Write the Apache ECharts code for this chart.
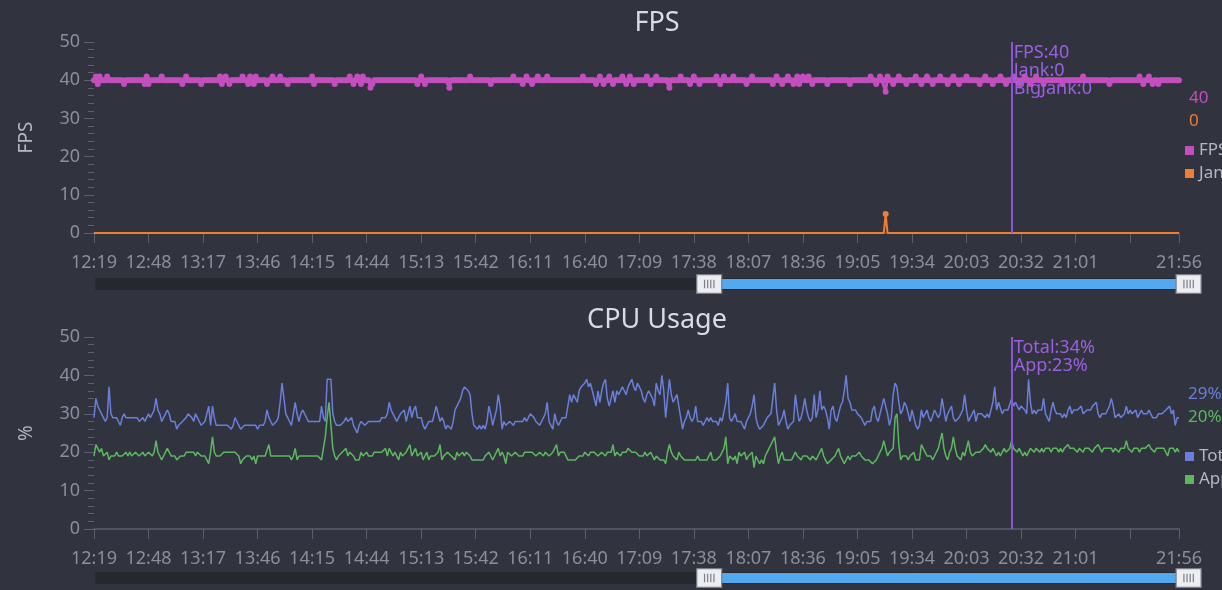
<!DOCTYPE html>
<html>
<head>
<meta charset="utf-8">
<script src="https://cdn.jsdelivr.net/npm/echarts@6/dist/echarts.min.js"></script>
<style>
html,body{margin:0;padding:0;background:#31333f;}
#chart{width:1222px;height:590px;}
</style>
</head>
<body>
<div id="chart"></div>
<script>
// ---- categories: one sample per minute from 12:19 to 21:56 ----
const startTime = '12:19';
const sampleCount = 578;
const categories = [];
(function () {
  const p = startTime.split(':');
  const m0 = (+p[0]) * 60 + (+p[1]);
  for (let k = 0; k < sampleCount; k++) {
    const t = m0 + k;
    categories.push(String(Math.floor(t / 60)).padStart(2, '0') + ':' + String(t % 60).padStart(2, '0'));
  }
})();

// ---- FPS chart ----
const fpsValues = [
40,41,39,41,40,40,40,41,40,40, 40,40,40,40,40,40,39,40,40,40,
40,40,40,40,40,40,40,39,41,39, 40,40,40,40,40,40,41,40,40,40,
40,40,40,40,40,40,40,39,40,41, 40,40,40,40,40,40,40,39,40,40,
40,40,40,40,40,40,40,41,39,40, 41,40,39,40,40,40,40,40,40,41,
40,40,39,41,40,39,41,40,40,40, 40,40,39,40,40,41,40,40,40,41,
40,40,40,39,40,40,40,40,40,40, 40,40,40,40,40,40,41,39,40,40,
40,40,40,40,40,40,40,40,39,40, 40,40,40,40,40,40,41,40,39,40,
41,40,39,41,40,40,40,38,39,40, 40,40,40,40,40,40,40,40,40,40,
40,40,40,40,40,40,40,40,40,40, 40,40,39,40,41,40,39,40,40,40,
40,40,40,40,40,40,40,40,40,38, 40,40,40,40,40,40,40,40,40,40,
41,40,40,40,40,40,40,40,40,40, 40,39,40,40,40,40,40,40,40,40,
40,40,40,41,40,40,40,40,39,40, 41,40,40,39,40,40,41,40,40,40,
40,41,40,40,40,40,40,40,40,40, 40,40,40,40,40,40,40,40,40,40,
41,40,40,40,40,40,40,39,40,41, 40,39,40,40,41,40,39,40,40,40,
40,41,40,39,40,41,40,39,40,40, 40,40,40,40,41,40,39,40,40,41,
40,40,40,40,40,40,38,40,40,40, 40,40,41,40,40,40,40,39,40,41,
40,40,39,40,40,40,40,40,40,40, 40,41,40,39,40,41,40,40,40,40,
41,40,40,40,40,40,40,39,40,40, 41,40,40,40,40,40,40,40,40,40,
40,39,40,41,40,40,39,40,40,41, 40,40,39,40,41,39,40,41,40,40,
41,40,39,40,40,40,40,40,40,40, 39,40,40,40,40,40,40,40,40,40,
40,40,39,40,40,40,40,40,40,40, 40,40,40,41,40,40,39,40,41,40,
40,37,41,40,40,39,40,40,41,40, 40,40,39,40,40,40,40,41,40,40,
39,40,40,41,40,40,39,40,40,40, 41,40,40,40,39,40,40,41,40,40,
39,40,40,40,41,40,40,40,40,40, 40,39,40,40,41,40,40,40,39,40,
40,40,41,40,40,39,40,40,40,41, 40,40,39,40,40,41,40,40,39,40,
40,41,40,40,40,39,40,40,40,40, 40,40,40,40,40,39,40,40,40,40,
40,40,40,40,40,40,41,40,40,40, 40,40,40,40,40,40,40,40,40,40,
39,40,40,40,40,40,40,40,40,40, 40,40,40,40,40,40,41,40,39,40,
40,41,40,39,40,40,39,40,40,40, 40,40,40,40,40,40,40,40
];
const jankValues = [
0,0,0,0,0,0,0,0,0,0, 0,0,0,0,0,0,0,0,0,0,
0,0,0,0,0,0,0,0,0,0, 0,0,0,0,0,0,0,0,0,0,
0,0,0,0,0,0,0,0,0,0, 0,0,0,0,0,0,0,0,0,0,
0,0,0,0,0,0,0,0,0,0, 0,0,0,0,0,0,0,0,0,0,
0,0,0,0,0,0,0,0,0,0, 0,0,0,0,0,0,0,0,0,0,
0,0,0,0,0,0,0,0,0,0, 0,0,0,0,0,0,0,0,0,0,
0,0,0,0,0,0,0,0,0,0, 0,0,0,0,0,0,0,0,0,0,
0,0,0,0,0,0,0,0,0,0, 0,0,0,0,0,0,0,0,0,0,
0,0,0,0,0,0,0,0,0,0, 0,0,0,0,0,0,0,0,0,0,
0,0,0,0,0,0,0,0,0,0, 0,0,0,0,0,0,0,0,0,0,
0,0,0,0,0,0,0,0,0,0, 0,0,0,0,0,0,0,0,0,0,
0,0,0,0,0,0,0,0,0,0, 0,0,0,0,0,0,0,0,0,0,
0,0,0,0,0,0,0,0,0,0, 0,0,0,0,0,0,0,0,0,0,
0,0,0,0,0,0,0,0,0,0, 0,0,0,0,0,0,0,0,0,0,
0,0,0,0,0,0,0,0,0,0, 0,0,0,0,0,0,0,0,0,0,
0,0,0,0,0,0,0,0,0,0, 0,0,0,0,0,0,0,0,0,0,
0,0,0,0,0,0,0,0,0,0, 0,0,0,0,0,0,0,0,0,0,
0,0,0,0,0,0,0,0,0,0, 0,0,0,0,0,0,0,0,0,0,
0,0,0,0,0,0,0,0,0,0, 0,0,0,0,0,0,0,0,0,0,
0,0,0,0,0,0,0,0,0,0, 0,0,0,0,0,0,0,0,0,0,
0,0,0,0,0,0,0,0,0,0, 0,0,0,0,0,0,0,0,0,0,
0,5,0,0,0,0,0,0,0,0, 0,0,0,0,0,0,0,0,0,0,
0,0,0,0,0,0,0,0,0,0, 0,0,0,0,0,0,0,0,0,0,
0,0,0,0,0,0,0,0,0,0, 0,0,0,0,0,0,0,0,0,0,
0,0,0,0,0,0,0,0,0,0, 0,0,0,0,0,0,0,0,0,0,
0,0,0,0,0,0,0,0,0,0, 0,0,0,0,0,0,0,0,0,0,
0,0,0,0,0,0,0,0,0,0, 0,0,0,0,0,0,0,0,0,0,
0,0,0,0,0,0,0,0,0,0, 0,0,0,0,0,0,0,0,0,0,
0,0,0,0,0,0,0,0,0,0, 0,0,0,0,0,0,0,0
];

// ---- CPU chart (%) ----
const cpuTotal = [
29,34,32,31,30,29,28,29,37,30, 29,29,29,28,27,29,30,29,29,29,
29,29,29,29,28,28,29,28,29,30, 29,29,31,34,31,30,28,29,29,31,
30,28,28,28,26,27,27,28,28,29, 30,30,29,28,30,29,28,27,27,28,
28,32,27,32,29,27,27,27,27,27, 27,27,27,26,27,29,28,27,26,26,
27,27,27,27,27,27,27,26,27,27, 27,28,31,29,28,27,27,28,29,33,
38,34,30,29,28,27,30,33,30,28, 30,31,31,29,28,28,28,28,28,28,
28,32,29,28,39,39,39,30,28,27, 27,27,27,28,29,28,28,29,27,26,
25,27,28,28,27,27,28,28,28,28, 28,28,28,29,29,29,30,33,31,30,
29,28,29,30,30,31,28,30,32,29, 31,32,29,29,29,27,26,27,28,28,
28,30,32,30,28,29,28,26,27,27, 26,28,31,32,32,34,36,37,37,36,
35,30,27,27,26,27,26,27,26,28, 32,30,27,27,31,35,32,26,28,27,
27,28,28,27,28,28,28,28,28,29, 28,29,30,30,29,28,28,27,28,28,
30,33,28,27,26,30,28,27,28,29, 29,29,32,35,33,35,34,33,36,37,
37,38,39,37,38,36,34,32,36,33, 36,38,39,34,32,34,36,33,36,35,
35,37,36,35,37,38,39,37,36,38, 37,36,34,33,35,36,35,34,32,38,
36,35,40,36,29,34,39,35,33,34, 35,35,29,26,28,29,31,29,28,29,
32,28,28,28,27,28,29,28,29,28, 28,28,27,29,28,28,33,38,29,28,
29,30,28,28,28,27,26,28,29,30, 32,35,29,27,26,26,27,27,29,29,
30,34,38,31,27,28,29,31,28,26, 27,27,28,35,31,28,29,31,34,31,
29,28,29,35,29,31,36,31,32,31, 29,26,31,32,29,28,30,32,33,36,
40,34,33,31,31,31,30,30,29,29, 27,28,28,28,31,32,29,28,30,32,
34,34,30,27,29,35,38,37,33,30, 31,33,32,30,28,31,29,27,26,27,
31,29,29,31,29,28,28,31,31,29, 30,34,31,28,30,31,32,29,28,28,
29,30,31,35,31,28,29,30,31,28, 30,30,30,30,29,30,29,29,33,37,
31,33,33,30,31,31,31,31,34,32, 33,32,31,32,32,31,30,39,33,30,
31,30,31,31,31,34,30,29,28,31, 33,31,30,30,30,29,30,29,31,32,
30,31,31,31,31,32,30,30,31,31, 31,32,32,33,30,29,30,30,30,31,
32,34,32,29,29,30,29,29,30,32, 30,31,30,30,31,29,30,31,30,30,
30,31,30,29,29,29,30,30,30,30, 31,31,32,30,31,27,29,29
];
const cpuApp = [
19,22,21,20,21,19,19,20,18,19, 19,19,20,19,19,19,19,20,19,20,
19,19,20,20,19,19,20,19,19,20, 20,19,20,23,20,19,18,19,20,21,
20,19,19,19,18,18,19,19,19,20, 20,20,20,20,19,20,20,19,19,19,
18,17,20,24,20,19,19,19,19,20, 20,20,20,20,20,20,20,19,17,18,
18,19,19,19,18,19,17,19,19,19, 19,19,19,22,19,19,19,19,19,19,
19,19,19,19,19,18,19,21,18,19, 19,19,19,19,19,19,19,19,19,19,
19,18,21,24,29,33,33,21,19,18, 19,19,20,20,21,19,20,20,19,18,
18,18,20,19,19,20,19,19,19,20, 20,20,20,20,20,21,19,21,20,19,
20,20,18,20,19,19,20,21,22,19, 20,21,19,19,20,18,19,20,18,19,
19,19,19,20,22,18,19,19,20,20, 19,19,18,20,19,19,20,19,20,20,
19,18,18,18,18,18,18,18,19,19, 20,19,18,19,20,21,19,20,19,17,
20,20,19,19,20,20,19,19,19,20, 20,20,20,20,20,19,19,20,20,19,
20,20,19,19,20,21,22,19,20,20, 20,20,18,18,18,18,18,18,19,19,
19,20,20,19,20,20,20,20,19,19, 20,20,19,20,20,20,22,19,20,20,
19,20,20,20,21,21,20,20,20,20, 19,19,19,20,19,19,20,19,18,19,
19,18,18,18,17,20,22,20,19,19, 18,20,19,19,18,18,18,18,18,18,
18,19,18,18,18,18,18,18,20,18, 18,18,18,19,19,21,24,17,19,19,
18,19,17,20,19,19,20,18,19,19, 20,16,19,19,17,18,17,19,20,21,
22,22,24,20,17,19,20,18,18,18, 18,18,18,20,19,19,18,19,19,19,
19,18,19,19,18,19,19,21,19,18, 17,17,18,18,19,20,21,19,18,17,
18,19,18,19,19,19,19,20,19,19, 18,18,18,18,17,17,18,18,20,21,
23,21,19,20,20,21,29,30,22,18, 19,19,19,18,19,19,20,18,18,18,
22,21,21,19,19,19,18,19,19,21, 23,25,21,19,18,20,21,24,21,19,
19,18,20,19,19,23,20,19,19,20, 20,20,20,21,22,21,21,20,21,21,
19,20,19,20,21,20,20,21,23,21, 21,20,21,20,19,20,19,20,21,21,
20,21,21,20,21,20,21,21,21,20, 21,21,21,20,21,20,21,21,22,21,
21,21,21,20,21,21,20,21,21,21, 21,20,21,21,22,21,20,21,21,21,
21,21,20,21,21,20,21,21,21,23, 21,21,20,21,21,21,20,21,21,21,
21,22,21,21,20,21,21,21,21,21, 21,19,21,21,21,20,21,20
];

// ---- marker / side readouts ----
const markTime = '20:27';
const bigJankAtMark = 0;
const fpsSideValues = ['40', '0'];
const cpuSideValues = ['29%', '20%'];
const yTicks = { min: 0, max: 50, interval: 10 };
const zoomWindow = { start: 56, end: 100 };

const markIdx = categories.indexOf(markTime);
const C = {
  bg: '#31333f', fps: '#c24fbd', jank: '#ef7e35', total: '#6a7fda', app: '#5cb85f',
  mark: '#8b55d6', markText: '#9b60e2', axisText: '#8b8f9a', tick: '#5c606d', title: '#d8dbe5'
};
const FONT = 'Noto Sans, sans-serif';

function labelShown(i) { return (i % 29 === 0 && i < sampleCount - 29) || i === sampleCount - 1; }
function tickShown(i) { return i % 29 === 0 || i === sampleCount - 1; }

function mkX(grid) {
  return {
    type: 'category', gridIndex: grid, data: categories, boundaryGap: false,
    axisLine: { show: true, lineStyle: { color: '#4f5363', width: 2 } },
    axisTick: { show: true, interval: tickShown, length: 10, lineStyle: { color: C.tick, width: 1 } },
    axisLabel: { interval: labelShown, color: C.axisText, fontSize: 18, margin: 21, fontFamily: FONT },
    splitLine: { show: false }
  };
}
function mkY(grid, name) {
  return {
    type: 'value', gridIndex: grid, min: yTicks.min, max: yTicks.max, interval: yTicks.interval,
    name: name, nameLocation: 'middle', nameGap: 58,
    nameTextStyle: { color: '#b4b8c3', fontSize: 19, fontFamily: FONT },
    axisLine: { show: false },
    axisTick: { show: true, length: 10, lineStyle: { color: C.tick } },
    minorTick: { show: true, splitNumber: 5, length: 6, lineStyle: { color: C.tick } },
    axisLabel: { color: C.axisText, fontSize: 18, margin: 14, fontFamily: FONT },
    splitLine: { show: false }
  };
}
function mkDummyX(grid) {
  return { type: 'value', gridIndex: grid, show: false, min: 0, max: 100 };
}
const handleIcon = 'path://M0,0L24,0L24,18L0,18Z M7.5,5L7.5,13 M10.5,5L10.5,13 M13.5,5L13.5,13 M16.5,5L16.5,13';
function mkZoom(axisIdx, top) {
  return {
    type: 'slider', xAxisIndex: axisIdx, start: zoomWindow.start, end: zoomWindow.end,
    left: 94, right: 34, top: top, height: 12,
    showDataShadow: false, showDetail: false, brushSelect: false, moveHandleSize: 0,
    backgroundColor: '#26282f', borderColor: '#26282f', fillerColor: '#52a9ef',
    handleIcon: handleIcon, handleSize: 25,
    handleStyle: { color: '#eceef1', borderColor: '#7c7e86', borderWidth: 1.2 },
    emphasis: { handleStyle: { color: '#eceef1', borderColor: '#7c7e86' } },
    zoomLock: true
  };
}
function markLabel(text) {
  return {
    silent: true, symbol: ['none', 'none'], animation: false,
    lineStyle: { color: C.mark, width: 2, type: 'solid' },
    label: {
      show: true, position: 'end', formatter: text, color: C.markText,
      fontSize: 18, lineHeight: 18, fontFamily: FONT,
      align: 'left', verticalAlign: 'top', distance: [0, -2], padding: [0, 0, 0, 2]
    },
    emphasis: { disabled: true },
    data: [{ xAxis: markTime }]
  };
}

const chart = echarts.init(document.getElementById('chart'));
chart.setOption({
  backgroundColor: C.bg,
  animation: false,
  textStyle: { fontFamily: FONT },
  title: [
    { text: 'FPS', left: 652, textAlign: 'center', top: 5, textStyle: { color: C.title, fontSize: 27, fontWeight: 'normal', fontFamily: FONT } },
    { text: 'CPU Usage', left: 652, textAlign: 'center', top: 302, textStyle: { color: C.title, fontSize: 27, fontWeight: 'normal', fontFamily: FONT } }
  ],
  grid: [
    { left: 94, right: 43, top: 42, height: 191 },
    { left: 94, right: 43, top: 337, height: 192 }
  ],
  xAxis: [mkX(0), mkX(1), mkDummyX(0), mkDummyX(1)],
  yAxis: [mkY(0, 'FPS'), mkY(1, '%')],
  dataZoom: [mkZoom(2, 278), mkZoom(3, 572)],
  legend: [
    { data: ['FPS', 'Jank'], orient: 'vertical', left: 1180, top: 137, icon: 'rect', itemWidth: 9, itemHeight: 9, itemGap: 6,
      textStyle: { color: '#b4b8c3', fontSize: 17, fontFamily: FONT } },
    { data: ['Total', 'App'], orient: 'vertical', left: 1180, top: 443, icon: 'rect', itemWidth: 9, itemHeight: 9, itemGap: 6,
      textStyle: { color: '#b4b8c3', fontSize: 17, fontFamily: FONT } }
  ],
  graphic: [
    { type: 'text', left: 1189, top: 90, style: { text: fpsSideValues[0], fill: C.fps, font: '17px ' + FONT } },
    { type: 'text', left: 1189, top: 113, style: { text: fpsSideValues[1], fill: C.jank, font: '17px ' + FONT } },
    { type: 'text', left: 1188, top: 386, style: { text: cpuSideValues[0], fill: C.total, font: '17px ' + FONT } },
    { type: 'text', left: 1188, top: 409, style: { text: cpuSideValues[1], fill: C.app, font: '17px ' + FONT } }
  ],
  series: [
    { name: 'FPS', type: 'line', xAxisIndex: 0, yAxisIndex: 0, data: fpsValues, color: C.fps,
      showSymbol: true, showAllSymbol: true, symbol: 'circle', symbolSize: 6,
      lineStyle: { width: 3 }, z: 3,
      markLine: markLabel('FPS:' + fpsValues[markIdx] + '\nJank:' + jankValues[markIdx] + '\nBigJank:' + bigJankAtMark) },
    { name: 'Jank', type: 'line', xAxisIndex: 0, yAxisIndex: 0, data: jankValues, color: C.jank,
      showSymbol: true, showAllSymbol: true, symbol: 'circle',
      symbolSize: function (v) { return v > 0 ? 6 : 0; },
      lineStyle: { width: 2 }, z: 2, clip: false },
    { name: 'Total', type: 'line', xAxisIndex: 1, yAxisIndex: 1, data: cpuTotal, color: C.total,
      showSymbol: false, lineStyle: { width: 1.5 },
      markLine: markLabel('Total:' + cpuTotal[markIdx] + '%\nApp:' + cpuApp[markIdx] + '%') },
    { name: 'App', type: 'line', xAxisIndex: 1, yAxisIndex: 1, data: cpuApp, color: C.app,
      showSymbol: false, lineStyle: { width: 1.5 } }
  ]
});
</script>
</body>
</html>
